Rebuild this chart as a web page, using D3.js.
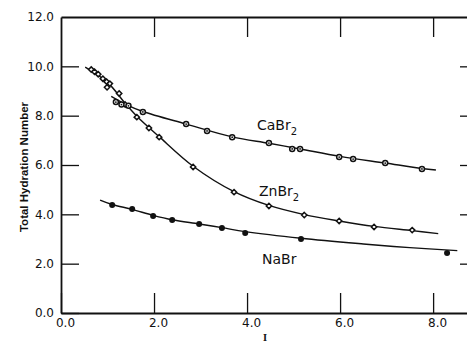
<html>
<head>
<script src="https://cdn.jsdelivr.net/npm/d3@7"></script>
<style>
body { margin: 0; background: #fff; }
text { font-family: "DejaVu Sans", sans-serif; fill: #111; }
</style>
</head>
<body>
<div id="canvas"></div>
<script>

var width = 467;
var height = 345;

// tick values
var xTicks = [0, 2, 4, 6, 8];
var yTicks = [0, 2, 4, 6, 8, 10, 12];

// measured points, [T, hydration number]
var cabr2Points = [[1.18,8.55],[1.30,8.45],[1.45,8.40],[1.76,8.15],[2.69,7.66],[3.14,7.38],[3.68,7.13],
    [4.47,6.89],[4.97,6.65],[5.14,6.65],[5.98,6.32],[6.28,6.24],[6.97,6.08],[7.76,5.84]];
var znbr2Points = [[0.65,9.87],[0.72,9.78],[0.80,9.68],[0.90,9.50],[0.98,9.38],[1.05,9.30],[0.99,9.15],
    [1.25,8.90],[1.38,8.45],[1.63,7.94],[1.89,7.50],[2.11,7.13],[2.84,5.92],[3.72,4.90],[4.47,4.34],
    [5.23,3.97],[5.98,3.73],[6.73,3.49],[7.55,3.36]];
var nabrPoints = [[1.10,4.38],[1.53,4.22],[1.98,3.93],[2.39,3.77],[2.97,3.61],[3.46,3.45],[3.96,3.24],
    [5.16,3.00],[8.30,2.43]];

// drawn smooth curves
var cabr2Curve = [[1.08,8.78],[1.40,8.45],[1.76,8.17],[2.69,7.66],[3.68,7.14],[4.47,6.88],[5.14,6.65],
    [6.0,6.35],[6.97,6.08],[7.76,5.86],[8.06,5.80]];
var znbr2Curve = [[0.52,9.97],[1.0,9.35],[1.38,8.50],[1.63,7.98],[2.11,7.15],[2.84,5.95],[3.72,4.92],
    [4.47,4.36],[5.23,3.99],[5.98,3.73],[6.73,3.51],[7.55,3.34],[8.11,3.22]];
var nabrCurve = [[0.84,4.58],[1.10,4.40],[1.53,4.20],[1.98,3.96],[2.39,3.78],[2.97,3.61],[3.46,3.46],
    [3.96,3.30],[5.16,3.03],[6.5,2.80],[7.5,2.65],[8.52,2.53]];

var svg = d3.select("#canvas").append("svg").attr("width", width).attr("height", height);

var x = d3.scaleLinear().domain([0, 8.75]).range([61, 468]);
var y = d3.scaleLinear().domain([0, 12]).range([313, 17]);

// axes, ticks pointing inward
var styleAxis = function(g) {
    g.selectAll(".domain").attr("stroke", "#111").attr("stroke-width", 1.8);
    g.selectAll(".tick line").attr("stroke", "#111").attr("stroke-width", 1.3);
    g.selectAll(".tick text").attr("font-size", 12).attr("fill", "#111");
};

svg.append("g").attr("transform", "translate(0,313)")
    .call(d3.axisBottom(x).tickValues(xTicks).tickSize(-20).tickSizeOuter(0).tickPadding(5)
        .tickFormat(d3.format(".1f")))
    .call(styleAxis)
    .call(function(g) { g.selectAll(".tick text").attr("dx", 4); });

svg.append("g").attr("transform", "translate(0,17)")
    .call(d3.axisTop(x).tickValues(xTicks.slice(1)).tickSize(-20).tickSizeOuter(0).tickFormat(""))
    .call(styleAxis);

svg.append("g").attr("transform", "translate(61,0)")
    .call(d3.axisLeft(y).tickValues(yTicks.slice(0, -1)).tickSize(-18).tickSizeOuter(0).tickPadding(7)
        .tickFormat(d3.format(".1f")))
    .call(styleAxis);

svg.append("text").attr("x", 54).attr("y", y(12)).attr("dy", "0.32em")
    .attr("text-anchor", "end").attr("font-size", 12).text("12.0");

svg.append("g").attr("transform", "translate(470,0)")
    .call(d3.axisRight(y).tickValues(yTicks.slice(1, -1)).tickSize(-10).tickSizeOuter(0).tickFormat(""))
    .call(styleAxis);

// axis titles
svg.append("text")
    .attr("transform", "translate(28," + (y(6) + 2) + ") rotate(-90)")
    .attr("text-anchor", "middle").attr("font-size", 11.5).attr("font-weight", "bold")
    .style("font-family", "'Liberation Sans', sans-serif")
    .text("Total Hydration Number");

svg.append("text").attr("x", 265).attr("y", 341)
    .attr("text-anchor", "middle").attr("font-size", 10.5).attr("font-weight", "bold")
    .style("font-family", "'Liberation Serif', serif").text("I");

// curves
var line = d3.line().x(function(d) { return x(d[0]); }).y(function(d) { return y(d[1]); })
    .curve(d3.curveCatmullRom);

[cabr2Curve, znbr2Curve, nabrCurve].forEach(function(c) {
    svg.append("path").datum(c).attr("d", line)
        .attr("fill", "none").attr("stroke", "#111").attr("stroke-width", 1.4);
});

// markers
svg.selectAll(".zn").data(znbr2Points).enter().append("path").attr("class", "zn")
    .attr("transform", function(d) { return "translate(" + x(d[0]) + "," + y(d[1]) + ")"; })
    .attr("d", d3.symbol().type(d3.symbolDiamond2).size(18))
    .attr("fill", "#fff").attr("stroke", "#111").attr("stroke-width", 1.5);

svg.selectAll(".ca").data(cabr2Points).enter().append("circle").attr("class", "ca")
    .attr("cx", function(d) { return x(d[0]); })
    .attr("cy", function(d) { return y(d[1]); })
    .attr("r", 2.5).attr("fill", "#fff").attr("stroke", "#111").attr("stroke-width", 1.5);
svg.selectAll(".cadot").data(cabr2Points).enter().append("circle").attr("class", "cadot")
    .attr("cx", function(d) { return x(d[0]); })
    .attr("cy", function(d) { return y(d[1]); })
    .attr("r", 0.9).attr("fill", "#111");

svg.selectAll(".na").data(nabrPoints).enter().append("circle").attr("class", "na")
    .attr("cx", function(d) { return x(d[0]); })
    .attr("cy", function(d) { return y(d[1]); })
    .attr("r", 3).attr("fill", "#111");

// series labels
var addLabel = function(px, py, name) {
    var t = svg.append("text").attr("x", px).attr("y", py).attr("font-size", 14);
    t.append("tspan").text(name);
    t.append("tspan").attr("font-size", 10).attr("dy", 5).text("2");
};
addLabel(257, 130, "CaBr");
addLabel(259, 196, "ZnBr");
svg.append("text").attr("x", 262).attr("y", 264).attr("font-size", 14).text("NaBr");

</script>
</body>
</html>
